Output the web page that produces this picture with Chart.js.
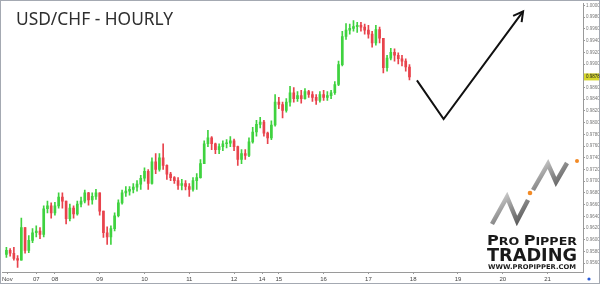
<!DOCTYPE html>
<html>
<head>
<meta charset="utf-8">
<script src="https://cdn.jsdelivr.net/npm/chart.js@4.4.0/dist/chart.umd.min.js"></script>
<style>
html, body { margin: 0; padding: 0; background: #fff; }
#wrap { position: relative; width: 600px; height: 284px; overflow: hidden; }
#myChart { position: absolute; left: 0; top: 0; }
#overlay { position: absolute; left: 0; top: 0; pointer-events: none; }
</style>
</head>
<body>
<div id="wrap">
<canvas id="myChart" width="600" height="284"></canvas>
<svg id="overlay" width="600" height="284">
  <defs>
    <linearGradient id="silver" x1="0" y1="0" x2="1" y2="1">
      <stop offset="0" stop-color="#dcdcdc"/>
      <stop offset="0.5" stop-color="#8c8c8c"/>
      <stop offset="1" stop-color="#4a4a4a"/>
    </linearGradient>
  </defs>
  <text x="16" y="25" font-family="Noto Sans" font-size="17.5" fill="#2e2e2e" textLength="157" lengthAdjust="spacingAndGlyphs">USD/CHF - HOURLY</text>
  <!-- logo -->
  <polyline points="492,224 507,197 517,221 528,200" fill="none" stroke="url(#silver)" stroke-width="4.5"/>
  <polyline points="533,190 548,164 556,182 567,163" fill="none" stroke="url(#silver)" stroke-width="4.5"/>
  <circle cx="530" cy="193" r="2.3" fill="#f28a25"/>
  <circle cx="577" cy="161" r="2" fill="#f28a25"/>
  <text x="487" y="245" font-family="DejaVu Sans" font-weight="bold" fill="#1a1a1a" textLength="90" lengthAdjust="spacingAndGlyphs"><tspan font-size="14">P</tspan><tspan font-size="11">RO </tspan><tspan font-size="14">P</tspan><tspan font-size="11">IPPER</tspan></text>
  <text x="487" y="261" font-family="DejaVu Sans" font-weight="bold" font-size="18" fill="#1a1a1a" textLength="90" lengthAdjust="spacingAndGlyphs">TRADING</text>
  <text x="488" y="269" font-family="DejaVu Sans" font-weight="bold" font-size="6.5" fill="#1a1a1a" textLength="88" lengthAdjust="spacingAndGlyphs">WWW.PROPIPPER.COM</text>
  <circle cx="589" cy="279" r="1.6" fill="#2a5bd7"/>
</svg>
</div>
<script>
// 2時間ごとのローソク足 (USD/CHF)
const firstOpen = 0.9575;
const closes = [
  0.9582,0.9577,0.9568,0.9565,0.9621,0.9582,0.9599,0.9612,0.9615,0.9609,
  0.9653,0.9658,0.9646,0.9658,0.9673,0.9666,0.9636,0.9654,0.9644,0.9661,
  0.9666,0.9680,0.9668,0.9674,0.9680,0.9649,0.9612,0.9605,0.9619,0.9641,
  0.9663,0.9680,0.9683,0.9686,0.9690,0.9695,0.9705,0.9717,0.9696,0.9733,
  0.9720,0.9740,0.9727,0.9712,0.9706,0.9701,0.9693,0.9696,0.9691,0.9686,
  0.9701,0.9706,0.9730,0.9764,0.9774,0.9764,0.9754,0.9759,0.9764,0.9765,
  0.9769,0.9759,0.9737,0.9747,0.9744,0.9767,0.9784,0.9797,0.9801,0.9782,
  0.9774,0.9796,0.9835,0.9831,0.9821,0.9835,0.9851,0.9841,0.9846,0.9841,
  0.9853,0.9848,0.9843,0.9838,0.9848,0.9843,0.9846,0.9851,0.9865,0.9899,
  0.9947,0.9958,0.9961,0.9964,0.9966,0.9963,0.9958,0.9951,0.9936,0.9959,
  0.9944,0.9894,0.9910,0.9920,0.9915,0.9909,0.9905,0.9895,0.9878
];
const highs = [
  0.9587,0.9585,0.9587,0.9573,0.9637,0.9621,0.9607,0.9619,0.9624,0.9621,
  0.9658,0.9666,0.9663,0.9664,0.9680,0.9680,0.9666,0.9661,0.9658,0.9666,
  0.9673,0.9685,0.9681,0.9680,0.9686,0.9680,0.9646,0.9622,0.9624,0.9646,
  0.9668,0.9685,0.9691,0.9691,0.9696,0.9701,0.9710,0.9723,0.9720,0.9740,
  0.9747,0.9747,0.9764,0.9728,0.9715,0.9708,0.9706,0.9703,0.9701,0.9696,
  0.9706,0.9713,0.9737,0.9769,0.9787,0.9776,0.9765,0.9764,0.9769,0.9771,
  0.9776,0.9772,0.9760,0.9754,0.9754,0.9774,0.9792,0.9804,0.9809,0.9804,
  0.9784,0.9803,0.9848,0.9843,0.9835,0.9841,0.9862,0.9860,0.9853,0.9855,
  0.9858,0.9855,0.9853,0.9848,0.9853,0.9855,0.9853,0.9855,0.9870,0.9905,
  0.9956,0.9969,0.9968,0.9974,0.9971,0.9971,0.9968,0.9966,0.9956,0.9966,
  0.9963,0.9942,0.9915,0.9927,0.9926,0.9919,0.9915,0.9909,0.9899
];
const lows = [
  0.9570,0.9572,0.9565,0.9553,0.9565,0.9577,0.9578,0.9595,0.9605,0.9602,
  0.9605,0.9646,0.9637,0.9642,0.9654,0.9654,0.9627,0.9632,0.9637,0.9642,
  0.9656,0.9663,0.9659,0.9661,0.9669,0.9642,0.9604,0.9592,0.9592,0.9615,
  0.9639,0.9661,0.9674,0.9676,0.9680,0.9683,0.9686,0.9700,0.9686,0.9695,
  0.9713,0.9717,0.9720,0.9703,0.9701,0.9696,0.9686,0.9685,0.9685,0.9674,
  0.9683,0.9686,0.9705,0.9730,0.9759,0.9754,0.9747,0.9747,0.9752,0.9757,
  0.9759,0.9752,0.9727,0.9730,0.9737,0.9742,0.9765,0.9777,0.9791,0.9777,
  0.9764,0.9771,0.9794,0.9824,0.9808,0.9818,0.9828,0.9835,0.9836,0.9833,
  0.9840,0.9843,0.9836,0.9831,0.9835,0.9838,0.9838,0.9841,0.9848,0.9863,
  0.9897,0.9942,0.9951,0.9956,0.9954,0.9956,0.9951,0.9944,0.9929,0.9932,
  0.9936,0.9885,0.9888,0.9907,0.9905,0.9900,0.9897,0.9888,0.9873
];

// 日付ラベル (x軸は時間単位)
const dayLabels = ['Nov','07','08','09','10','11','12','14','15','16','17','18','19','20','21'];
const dayTicks = [2.5,18,28,52,76,100,124,139,148,172,196,220,244,268,292];
const priceTicks = [
  0.9560,0.9580,0.9600,0.9620,0.9640,0.9660,0.9680,0.9700,0.9720,0.9740,0.9760,0.9780,
  0.9800,0.9820,0.9840,0.9860,0.9880,0.9900,0.9920,0.9940,0.9960,0.9980,1.0000
];

// 予想の矢印
const arrowHours = [222, 236.3, 278.9];
const arrowPrices = [0.9872, 0.9806, 0.9990];

const upColor = '#3fd23f';
const downColor = '#e8434c';

let candleHours = closes.map((c, i) => 2 + i * 2);
let opens = closes.map((c, i) => i == 0 ? firstOpen : closes[i - 1]);
let colors = closes.map((c, i) => c >= opens[i] ? upColor : downColor);

let wicks = candleHours.map((h, i) => ({
    x: h,
    y: [Math.min(lows[i], opens[i], closes[i]), Math.max(highs[i], opens[i], closes[i])]
}));
let bodies = candleHours.map((h, i) => ({ x: h, y: [opens[i], closes[i]] }));
let arrowLine = arrowHours.map((h, i) => ({ x: h, y: arrowPrices[i] }));

let frame = {
    id: 'frame',
    beforeDraw(chart) {
        let c = chart.ctx;
        c.save();
        c.fillStyle = '#fff';
        c.fillRect(0, 0, chart.width, chart.height);
        c.restore();
    },
    afterDraw(chart) {
        let c = chart.ctx;
        c.save();
        c.strokeStyle = '#a4a9b2';
        c.lineWidth = 1;
        c.strokeRect(0.5, 0.5, chart.width - 1, chart.height - 1);
        c.restore();
    }
};

let arrowHead = {
    id: 'arrowHead',
    afterDatasetsDraw(chart) {
        let meta = chart.getDatasetMeta(2);
        let n = meta.data.length;
        let p1 = meta.data[n - 2], p2 = meta.data[n - 1];
        let ang = Math.atan2(p2.y - p1.y, p2.x - p1.x);
        let c = chart.ctx;
        c.save();
        c.strokeStyle = '#111';
        c.lineWidth = 2;
        c.beginPath();
        c.moveTo(p2.x - 11 * Math.cos(ang - 0.5), p2.y - 11 * Math.sin(ang - 0.5));
        c.lineTo(p2.x, p2.y);
        c.lineTo(p2.x - 11 * Math.cos(ang + 0.5), p2.y - 11 * Math.sin(ang + 0.5));
        c.stroke();
        c.restore();
    }
};

let priceTag = {
    id: 'priceTag',
    afterDraw(chart) {
        let ys = chart.scales.y;
        let last = closes[closes.length - 1];
        let py = ys.getPixelForValue(last);
        let c = chart.ctx;
        c.save();
        c.fillStyle = '#d6d62e';
        c.fillRect(ys.left + 1, py - 3.5, ys.width - 2, 7);
        c.fillStyle = '#222';
        c.font = '4.5px "Liberation Sans"';
        c.textBaseline = 'middle';
        c.fillText(last.toFixed(4), ys.left + 3, py);
        c.restore();
    }
};

Chart.defaults.font.family = '"Liberation Sans", Arial, sans-serif';

let ctx = document.getElementById('myChart').getContext('2d');
new Chart(ctx, {
    type: 'bar',
    data: {
        datasets: [
            { type: 'bar', data: wicks, backgroundColor: colors, barThickness: 1, grouped: false, order: 2 },
            { type: 'bar', data: bodies, backgroundColor: colors, barThickness: 2, minBarLength: 1, grouped: false, order: 1 },
            { type: 'line', data: arrowLine, borderColor: '#111', borderWidth: 2, pointRadius: 0, order: 0 }
        ]
    },
    options: {
        responsive: false,
        animation: false,
        layout: { padding: 0 },
        plugins: {
            legend: { display: false },
            tooltip: { enabled: false }
        },
        scales: {
            x: {
                type: 'linear',
                min: 0,
                max: 311,
                offset: false,
                grid: { drawOnChartArea: false, tickLength: 2, color: '#999', offset: false },
                border: { color: '#9a9a9a' },
                afterBuildTicks: s => { s.ticks = dayTicks.map(v => ({ value: v })); },
                ticks: {
                    autoSkip: false,
                    maxRotation: 0,
                    padding: 2,
                    color: '#444',
                    font: { size: 6 },
                    callback: (v, i) => dayLabels[i]
                },
                afterFit: s => { s.height = 12; }
            },
            y: {
                position: 'right',
                min: 0.9545,
                max: 1.0003,
                grid: { drawOnChartArea: false, tickLength: 2, color: '#999' },
                border: { color: '#9a9a9a' },
                afterBuildTicks: s => { s.ticks = priceTicks.map(v => ({ value: v })); },
                ticks: {
                    autoSkip: false,
                    padding: 1,
                    color: '#777',
                    font: { size: 4.5 },
                    callback: v => v.toFixed(4)
                },
                afterFit: s => { s.width = 17; }
            }
        }
    },
    plugins: [frame, arrowHead, priceTag]
});
</script>
</body>
</html>
